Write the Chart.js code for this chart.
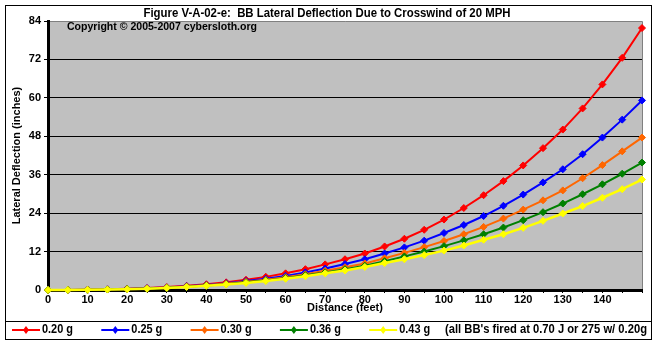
<!DOCTYPE html>
<html>
<head>
<meta charset="utf-8">
<script src="https://cdn.jsdelivr.net/npm/chart.js@4"></script>
<style>
  html, body { margin: 0; padding: 0; background: #fff; }
  #wrap { width: 657px; height: 343px; position: relative; }
</style>
</head>
<body>
<div id="wrap"><canvas id="chart"></canvas></div>
<script>
// Distance (feet) along the x axis
const distances = [0, 5, 10, 15, 20, 25, 30, 35, 40, 45, 50, 55, 60, 65, 70, 75,
  80, 85, 90, 95, 100, 105, 110, 115, 120, 125, 130, 135, 140, 145, 150];

// Lateral deflection (inches) per BB weight
const defl020 = [0, 0.02, 0.1, 0.2, 0.4, 0.6, 0.9, 1.3, 1.8, 2.4, 3.2, 4.1, 5.2, 6.5, 8.0, 9.6,
  11.4, 13.6, 16.0, 18.8, 22.0, 25.6, 29.6, 34.0, 38.9, 44.3, 50.1, 56.7, 64.2, 72.5, 81.8];
const defl025 = [0, 0.02, 0.08, 0.2, 0.35, 0.55, 0.8, 1.2, 1.6, 2.1, 2.8, 3.5, 4.4, 5.5, 6.7, 8.1,
  9.6, 11.4, 13.3, 15.4, 17.8, 20.3, 23.1, 26.3, 29.8, 33.6, 37.7, 42.4, 47.6, 53.2, 59.2];
const defl030 = [0, 0.02, 0.07, 0.17, 0.3, 0.5, 0.75, 1.1, 1.5, 2.0, 2.6, 3.2, 4.0, 4.9, 6.0, 7.1,
  8.3, 9.9, 11.6, 13.4, 15.3, 17.4, 19.7, 22.3, 25.1, 28.0, 31.1, 34.9, 39.0, 43.3, 47.6];
const defl036 = [0, 0.02, 0.07, 0.15, 0.3, 0.45, 0.7, 1.0, 1.4, 1.8, 2.4, 3.0, 3.7, 4.6, 5.5, 6.5,
  7.6, 9.0, 10.5, 12.0, 13.7, 15.5, 17.4, 19.5, 21.8, 24.3, 27.0, 29.9, 33.0, 36.3, 39.8];
const defl043 = [0, 0.02, 0.06, 0.14, 0.25, 0.4, 0.65, 0.95, 1.3, 1.7, 2.2, 2.8, 3.5, 4.3, 5.2, 6.1,
  7.2, 8.4, 9.6, 10.9, 12.3, 13.9, 15.7, 17.4, 19.4, 21.6, 23.9, 26.2, 28.8, 31.5, 34.5];

const seriesLabels = ['0.20 g', '0.25 g', '0.30 g', '0.36 g', '0.43 g'];
const seriesValues = [defl020, defl025, defl030, defl036, defl043];
const seriesColors = ['#ff0000', '#0000ff', '#ff6600', '#008000', '#ffff00'];

const yTicks = [0, 12, 24, 36, 48, 60, 72, 84];

const titleText = 'Figure V-A-02-e:  BB Lateral Deflection Due to Crosswind of 20 MPH';
const copyrightText = 'Copyright \u00a9 2005-2007 cybersloth.org';
const noteText = "(all BB's fired at 0.70 J or 275 w/ 0.20g";

const FONT = "'Liberation Sans', Arial, sans-serif";

// Frame, plot background, title, copyright and the bottom legend box
const decorPlugin = {
  id: 'decor',
  beforeDraw(chart) {
    const { ctx, chartArea: a } = chart;
    ctx.save();
    ctx.fillStyle = '#fff';
    ctx.fillRect(0, 0, chart.width, chart.height);
    ctx.fillStyle = '#c0c0c0';
    ctx.fillRect(a.left, a.top, a.right - a.left, a.bottom - a.top);
    ctx.strokeStyle = '#808080';
    ctx.lineWidth = 1;
    ctx.beginPath();
    ctx.moveTo(a.left, a.top + 0.5);
    ctx.lineTo(a.right + 0.5, a.top + 0.5);
    ctx.lineTo(a.right + 0.5, a.bottom);
    ctx.stroke();
    ctx.restore();
  },
  afterDraw(chart) {
    const { ctx } = chart;
    ctx.save();
    ctx.strokeStyle = '#000';
    ctx.lineWidth = 1;
    ctx.strokeRect(5.5, 5.5, 646, 334);
    ctx.beginPath();
    ctx.moveTo(5, 321.5);
    ctx.lineTo(652, 321.5);
    ctx.stroke();

    ctx.fillStyle = '#000';
    ctx.textBaseline = 'middle';
    ctx.textAlign = 'center';
    ctx.font = 'bold 12px ' + FONT;
    ctx.fillText(titleText, 327, 14, 367);
    ctx.textAlign = 'left';
    ctx.font = 'bold 11px ' + FONT;
    ctx.fillText(copyrightText, 67, 27, 190);

    // legend
    const ly = 330;
    ctx.font = 'bold 12px ' + FONT;
    seriesLabels.forEach((lab, i) => {
      const x0 = 12 + i * 89.3;
      ctx.strokeStyle = seriesColors[i];
      ctx.lineWidth = 2;
      ctx.beginPath();
      ctx.moveTo(x0, ly);
      ctx.lineTo(x0 + 28, ly);
      ctx.stroke();
      ctx.fillStyle = seriesColors[i];
      ctx.beginPath();
      ctx.moveTo(x0 + 14, ly - 4);
      ctx.lineTo(x0 + 17, ly);
      ctx.lineTo(x0 + 14, ly + 4);
      ctx.lineTo(x0 + 11, ly);
      ctx.closePath();
      ctx.fill();
      ctx.fillStyle = '#000';
      ctx.fillText(lab, x0 + 30, ly, 31);
    });
    ctx.fillText(noteText, 445, ly, 202);
    ctx.restore();
  }
};

const datasets = seriesLabels.map((lab, i) => ({
  label: lab,
  data: distances.map((d, j) => ({ x: d, y: seriesValues[i][j] })),
  borderColor: seriesColors[i],
  backgroundColor: seriesColors[i],
  borderWidth: i === 4 ? 2.5 : 2,
  pointStyle: 'rectRot',
  pointRadius: 3.5,
  pointBorderWidth: 1,
  tension: 0,
  clip: false,
  order: seriesLabels.length - i
}));

new Chart(document.getElementById('chart').getContext('2d'), {
  type: 'line',
  data: { datasets },
  plugins: [decorPlugin],
  options: {
    responsive: true,
    maintainAspectRatio: false,
    animation: false,
    layout: { padding: { left: 5, right: 15, top: 21, bottom: 27 } },
    plugins: {
      legend: { display: false },
      title: { display: false },
      tooltip: { enabled: false }
    },
    scales: {
      x: {
        type: 'linear',
        min: 0,
        max: 150,
        afterFit: s => { s.height = 26; },
        afterBuildTicks: s => { s.ticks = distances.map(v => ({ value: v })); },
        ticks: {
          autoSkip: false,
          maxRotation: 0,
          padding: 0,
          color: '#000',
          font: { family: FONT, size: 11, weight: 'bold' },
          callback: v => (v % 10 === 0 && v < 150) ? String(v) : ''
        },
        grid: { drawOnChartArea: false, tickLength: 3, tickColor: '#000' },
        border: { color: '#000', width: 3 },
        title: {
          display: true,
          text: 'Distance (feet)',
          color: '#000',
          padding: { top: 0, bottom: 1 },
          font: { family: FONT, size: 11, weight: 'bold' }
        }
      },
      y: {
        min: 0,
        max: 84,
        afterFit: s => { s.width = 43; },
        afterBuildTicks: s => { s.ticks = yTicks.map(v => ({ value: v })); },
        ticks: {
          padding: 3,
          color: '#000',
          font: { family: FONT, size: 11, weight: 'bold' }
        },
        grid: {
          color: c => (c.tick && c.tick.value === 84) ? 'rgba(0,0,0,0)' : '#000',
          tickColor: '#000',
          tickLength: 4,
          lineWidth: 1
        },
        border: { color: '#000', width: 3 },
        title: {
          display: true,
          text: 'Lateral Deflection (inches)',
          color: '#000',
          padding: { top: 5, bottom: 0 },
          font: { family: FONT, size: 11, weight: 'bold' }
        }
      }
    }
  }
});
</script>
</body>
</html>
